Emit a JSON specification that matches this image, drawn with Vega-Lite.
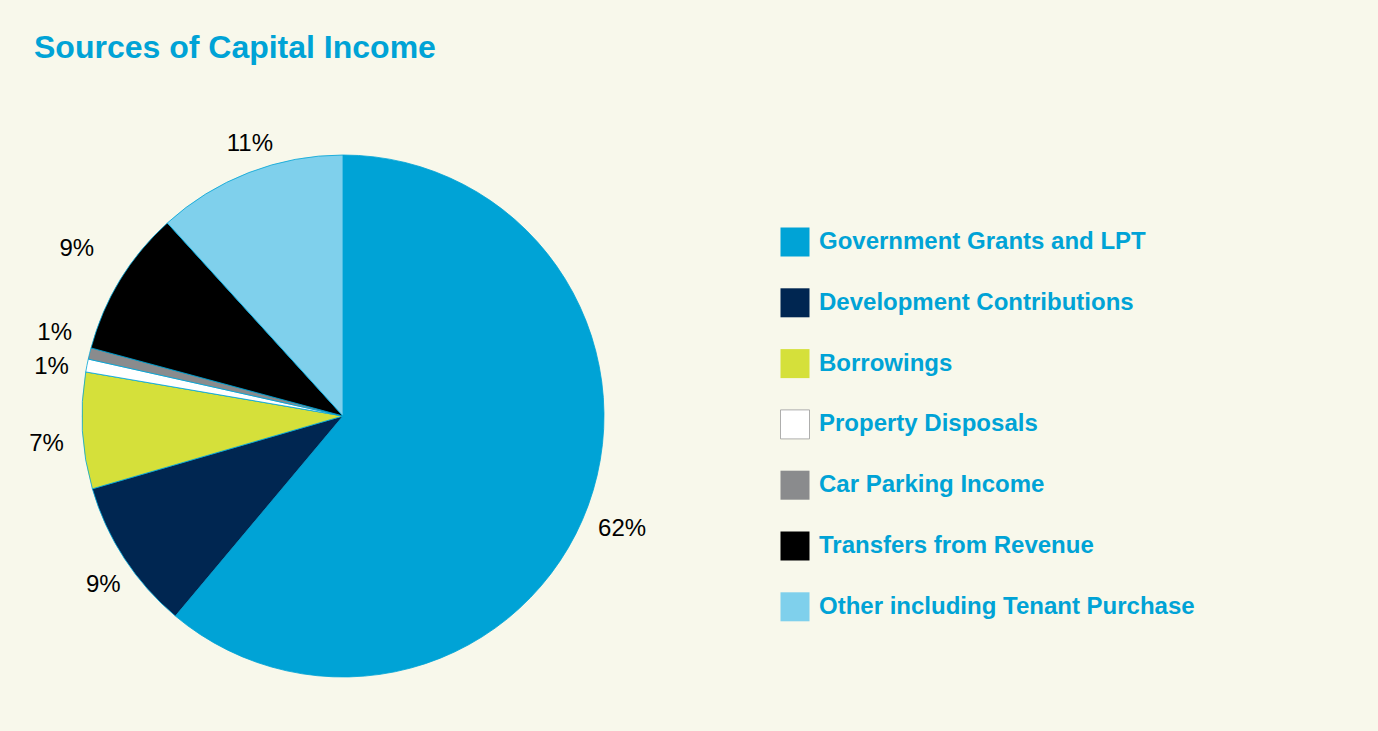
{
  "$schema": "https://vega.github.io/schema/vega-lite/v6.json",
  "width": 686,
  "height": 522,
  "autosize": {"type": "pad"},
  "padding": {"left": 0, "top": 32, "right": 220, "bottom": 60},
  "background": "#F8F8EB",
  "title": {
    "text": "Sources of Capital Income",
    "anchor": "start",
    "dx": 34,
    "offset": 67,
    "font": "Liberation Sans",
    "fontSize": 32,
    "fontWeight": "bold",
    "color": "#00A3D6"
  },
  "config": {"view": {"stroke": null}, "arc": {"stroke": "#00A3D6", "strokeWidth": 0.8}},
  "data": {
    "values": [
      {"source": "Government Grants and LPT", "value": 61.1, "label": "62%", "rank": 1},
      {"source": "Development Contributions", "value": 9.4, "label": "9%", "rank": 2},
      {"source": "Borrowings", "value": 7.2, "label": "7%", "rank": 3},
      {"source": "Property Disposals", "value": 0.8, "label": "1%", "rank": 4},
      {"source": "Car Parking Income", "value": 0.7, "label": "1%", "rank": 5},
      {"source": "Transfers from Revenue", "value": 9.05, "label": "9%", "rank": 6},
      {"source": "Other including Tenant Purchase", "value": 11.75, "label": "11%", "rank": 7}
    ]
  },
  "layer": [
    {
      "mark": {"type": "arc", "outerRadius": 261},
      "encoding": {
        "theta": {"field": "value", "type": "quantitative", "stack": true},
        "order": {"field": "rank", "type": "quantitative"},
        "color": {
          "field": "source",
          "type": "nominal",
          "sort": null,
          "scale": {
            "domain": ["Government Grants and LPT", "Development Contributions", "Borrowings", "Property Disposals", "Car Parking Income", "Transfers from Revenue", "Other including Tenant Purchase"],
            "range": ["#00A3D6", "#002651", "#D5E03A", "#FFFFFF", "#8A8B8D", "#000000", "#7FD0EC"]
          },
          "legend": {
            "title": null,
            "orient": "none",
            "legendX": 780,
            "legendY": 72,
            "padding": 0,
            "symbolType": "square",
            "symbolSize": 841,
            "symbolOpacity": 1,
            "symbolStrokeColor": {"expr": "datum.value === 'Property Disposals' ? '#9A9A9A' : 'transparent'"},
            "symbolStrokeWidth": 1,
            "rowPadding": 26.8,
            "labelOffset": 9,
            "labelFont": "Liberation Sans",
            "labelFontSize": 24,
            "labelFontWeight": "bold",
            "labelColor": "#00A3D6",
            "labelLimit": 600
          }
        }
      }
    },
    {
      "mark": {
        "type": "text",
        "radius": {"expr": "datum.source === 'Transfers from Revenue' ? 312 : 297"},
        "dx": {"expr": "datum.source === 'Development Contributions' ? 9 : datum.source === 'Other including Tenant Purchase' ? 14 : 0"},
        "dy": {"expr": "datum.source === 'Car Parking Income' ? -12 : datum.source === 'Property Disposals' ? 8 : datum.source === 'Government Grants and LPT' ? 12 : datum.source === 'Borrowings' ? 11 : datum.source === 'Development Contributions' ? 7 : datum.source === 'Other including Tenant Purchase' ? 5 : datum.source === 'Transfers from Revenue' ? -4 : 0"},
        "font": "Liberation Sans",
        "fontSize": 24,
        "color": "#000000"
      },
      "encoding": {
        "theta": {"field": "value", "type": "quantitative", "stack": true},
        "order": {"field": "rank", "type": "quantitative"},
        "text": {"field": "label", "type": "nominal"}
      }
    }
  ]
}
